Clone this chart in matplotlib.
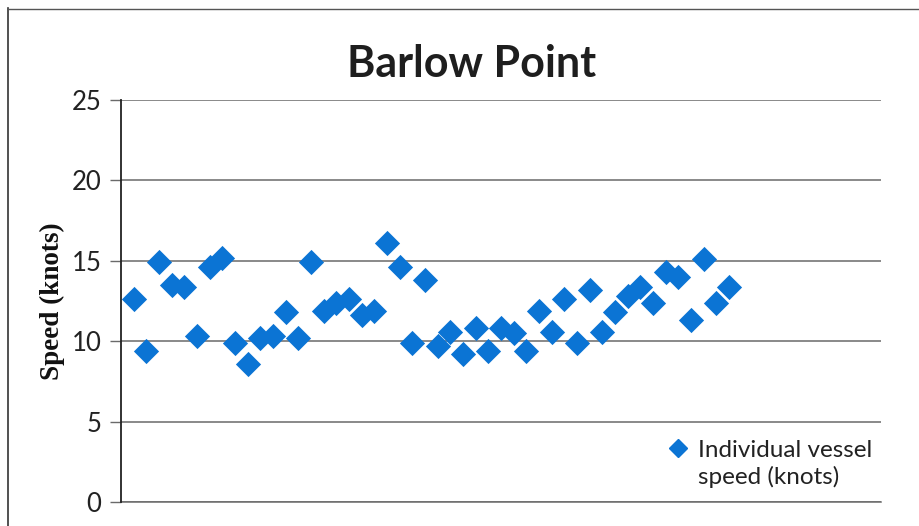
import matplotlib
matplotlib.use("Agg")
import matplotlib.pyplot as plt
from matplotlib.lines import Line2D

# Vessel index and recorded speed (knots)
vessel = list(range(1, 49))
speed = [12.6, 9.4, 14.9, 13.5, 13.4, 10.3, 14.6, 15.2, 9.9, 8.6,
         10.2, 10.3, 11.8, 10.2, 14.9, 11.9, 12.4, 12.6, 11.6, 11.9,
         16.1, 14.6, 9.9, 13.8, 9.7, 10.6, 9.2, 10.8, 9.4, 10.8,
         10.5, 9.4, 11.9, 10.6, 12.6, 9.9, 13.2, 10.6, 11.8, 12.8,
         13.4, 12.4, 14.3, 14.0, 11.3, 15.1, 12.4, 13.4]
y_ticks = [0, 5, 10, 15, 20, 25]

blue = "#0b74d4"
sans = ["Lato", "DejaVu Sans"]
serif = ["Liberation Serif", "DejaVu Serif"]

fig = plt.figure(figsize=(9.2, 5.26), dpi=100)
ax = fig.add_axes([0.1315, 0.0456, 0.826, 0.7643])

ax.scatter(vessel, speed, marker="D", s=165, color=blue, linewidths=0, zorder=3)

ax.set_xlim(0, 60)
ax.set_ylim(0, 25)
ax.set_yticks(y_ticks)
ax.set_xticks([])
ax.grid(axis="y", color="#6a6a6a", linewidth=1.1, zorder=1)
for s in ("top", "right", "bottom"):
    ax.spines[s].set_visible(False)
ax.spines["left"].set_linewidth(1.3)
ax.spines["left"].set_color("#222222")
ax.tick_params(axis="y", length=8, width=1.0, color="#6a6a6a", pad=6,
               labelsize=18.5, labelcolor="#222222")
for lbl in ax.get_yticklabels():
    lbl.set_family(sans)
# zero baseline
ax.axhline(0, color="#6a6a6a", linewidth=1.1, zorder=1, clip_on=False)

ax.set_ylabel("Speed (knots)", family=serif, fontweight="bold", fontsize=19.5,
              color="#111111", labelpad=5)

fig.text(0.513, 0.878, "Barlow Point", ha="center", va="center",
         family=sans, fontweight="bold", fontsize=31, color="#1e1e1e")

handles = [Line2D([], [], marker="D", linestyle="none", color=blue, markersize=9.5),
           Line2D([], [], linestyle="none")]
leg = ax.legend(handles, ["Individual vessel", "speed (knots)"],
                loc="upper left", bbox_to_anchor=(0.704, 0.185),
                frameon=False, handlelength=0.8, handletextpad=0.45,
                labelspacing=0.22, borderpad=0,
                prop={"family": sans, "size": 17.5})
for t in leg.get_texts():
    t.set_color("#222222")

# page border lines of the scanned sheet
fig.add_artist(Line2D([0.009, 0.009], [0, 0.985], transform=fig.transFigure,
                      color="#333333", linewidth=1.2))
fig.add_artist(Line2D([0.009, 1.0], [0.982, 0.982], transform=fig.transFigure,
                      color="#555555", linewidth=1.0))

fig.savefig("out.png", dpi=100)
